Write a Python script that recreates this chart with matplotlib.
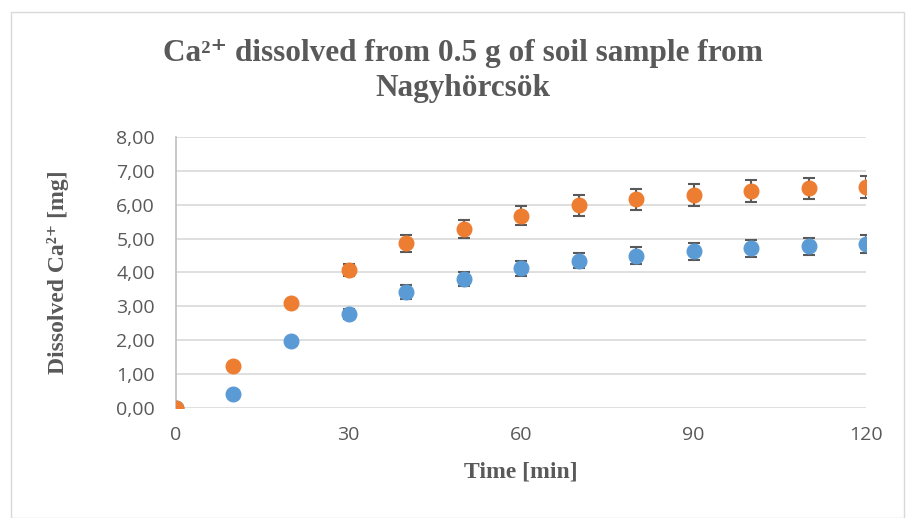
import matplotlib
matplotlib.use('Agg')
import matplotlib.pyplot as plt
from matplotlib.patches import Rectangle
from matplotlib.ticker import FuncFormatter

# data
time_min = [0, 10, 20, 30, 40, 50, 60, 70, 80, 90, 100, 110, 120]
orange_ca = [0.00, 1.23, 3.10, 4.07, 4.86, 5.29, 5.68, 5.98, 6.16, 6.29, 6.40, 6.48, 6.53]
orange_err = [0.00, 0.08, 0.10, 0.18, 0.26, 0.27, 0.29, 0.31, 0.31, 0.32, 0.32, 0.32, 0.33]
blue_ca = [0.00, 0.41, 1.97, 2.78, 3.42, 3.80, 4.12, 4.35, 4.50, 4.62, 4.71, 4.77, 4.83]
blue_err = [0.00, 0.05, 0.08, 0.15, 0.20, 0.21, 0.22, 0.23, 0.24, 0.25, 0.26, 0.26, 0.27]

x_ticks = [0, 30, 60, 90, 120]
y_ticks = [0, 1, 2, 3, 4, 5, 6, 7, 8]

grey = '#595959'
serif = ['Liberation Serif', 'DejaVu Serif']

fig = plt.figure(figsize=(9.07, 5.18), dpi=100)
ax = fig.add_axes([0.194, 0.2124, 0.761, 0.5232])

# outer chart border
fig.patches.append(Rectangle((0.012, 0.0), 0.985, 0.976, transform=fig.transFigure,
                             fill=False, edgecolor='#D9D9D9', linewidth=1))

ax.errorbar(time_min, blue_ca, yerr=blue_err, fmt='o', color='#5B9BD5', ms=10.5,
            ecolor=grey, elinewidth=1.5, capsize=4, capthick=1.5, zorder=3)
ax.errorbar(time_min, orange_ca, yerr=orange_err, fmt='o', color='#ED7D31', ms=10.5,
            ecolor=grey, elinewidth=1.5, capsize=4, capthick=1.5, zorder=4)

ax.set_xlim(0, 120)
ax.set_ylim(0, 8)
ax.set_xticks(x_ticks)
ax.set_yticks(y_ticks)
ax.yaxis.set_major_formatter(FuncFormatter(lambda v, p: f'{v:.2f}'.replace('.', ',')))
ax.grid(axis='y', color='#D9D9D9', linewidth=1.2)
ax.set_axisbelow(True)
for s in ['top', 'right', 'bottom']:
    ax.spines[s].set_visible(False)
ax.spines['left'].set_color('#BFBFBF')
ax.spines['left'].set_linewidth(1.2)
ax.tick_params(length=0, labelsize=14, labelcolor=grey)
ax.tick_params(axis='y', pad=15)
ax.tick_params(axis='x', pad=13)
for lab in ax.get_xticklabels() + ax.get_yticklabels():
    lab.set_fontfamily('Open Sans')

ax.set_xlabel('Time [min]', fontsize=17, fontweight='bold', color=grey, fontfamily=serif)
ax.xaxis.label.set_va('center')
ax.xaxis.set_label_coords(0.5, -0.236)
ax.set_ylabel('Dissolved Ca²⁺ [mg]', fontsize=17, fontweight='bold', color=grey,
              fontfamily=serif)
ax.yaxis.label.set_va('center')
ax.yaxis.set_label_coords(-0.171, 0.5)

fig.text(0.51, 0.863, 'Ca²⁺ dissolved from 0.5 g of soil sample from\nNagyhörcsök',
         ha='center', va='center', fontsize=22.5, fontweight='bold', color=grey,
         fontfamily=serif, linespacing=1.25)

fig.savefig('out.png', dpi=100)
